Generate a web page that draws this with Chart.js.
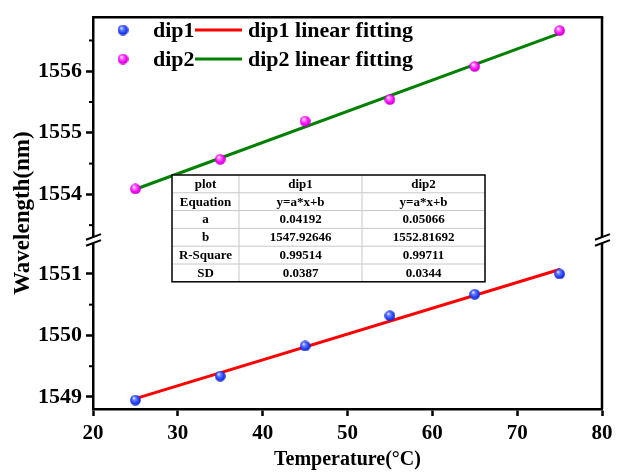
<!DOCTYPE html>
<html>
<head>
<meta charset="utf-8">
<script src="https://cdn.jsdelivr.net/npm/chart.js@4.4.0/dist/chart.umd.min.js"></script>
<style>
  html, body { margin: 0; padding: 0; background: #fff; }
</style>
</head>
<body>
<canvas id="chart" width="637" height="475"></canvas>
<script>
// measured dip wavelengths vs. temperature
const temperature = [25, 35, 45, 55, 65, 75];
const dip1 = [1548.95, 1549.34, 1549.83, 1550.32, 1550.67, 1551.00];
const dip2 = [1554.09, 1554.57, 1555.19, 1555.54, 1556.08, 1556.66];

// linear fit results y = a*x + b
const fitA = [0.04192, 0.05066];
const fitB = [1547.92646, 1552.81692];
const rSquare = ['0.99514', '0.99711'];
const stdDev = ['0.0387', '0.0344'];

// broken y axis: lower and upper segment ranges
const lowRange = [1548.805, 1551.551];
const highRange = [1553.259, 1556.878];
const xRange = [20, 80];

const serif = "'Liberation Serif', 'Times New Roman', serif";

// small shaded ball used as the point marker
function sphere(light, base, dark) {
  const c = document.createElement('canvas');
  c.width = 11; c.height = 11;
  const g = c.getContext('2d');
  const grad = g.createRadialGradient(3.8, 3.3, 0.3, 5.5, 5.5, 5.5);
  grad.addColorStop(0, '#ffffff');
  grad.addColorStop(0.25, light);
  grad.addColorStop(0.7, base);
  grad.addColorStop(1, dark);
  g.fillStyle = grad;
  g.beginPath();
  g.arc(5.5, 5.5, 5.3, 0, Math.PI * 2);
  g.fill();
  return c;
}
const blueBall = sphere('#6f86ff', '#2040ff', '#1020b0');
const pinkBall = sphere('#ff7bff', '#ff00ff', '#b000b0');

function fitLine(i) {
  const x0 = temperature[0], x1 = temperature[temperature.length - 1];
  return [{ x: x0, y: fitA[i] * x0 + fitB[i] }, { x: x1, y: fitA[i] * x1 + fitB[i] }];
}

const points = arr => temperature.map((t, i) => ({ x: t, y: arr[i] }));

// frame, minor ticks, axis breaks, y title, legend and fit table
const decorations = {
  id: 'decorations',
  afterDraw(chart) {
    const { ctx, chartArea: ca, scales } = chart;
    const line = (x0, y0, x1, y1) => { ctx.beginPath(); ctx.moveTo(x0, y0); ctx.lineTo(x1, y1); ctx.stroke(); };
    ctx.save();
    ctx.strokeStyle = '#000';

    // minor ticks on the y segments
    ctx.lineWidth = 2;
    [scales.yLow, scales.yHigh].forEach(s => {
      for (let v = Math.ceil(s.min * 2) / 2; v <= s.max; v += 0.5) {
        if (v % 1 === 0) continue;
        const y = s.getPixelForValue(v);
        if (y < s.top + 4 || y > s.bottom - 4) continue;
        line(ca.left - 4, y, ca.left, y);
      }
    });

    // top and right frame
    ctx.lineWidth = 2.5;
    line(ca.left, ca.top, ca.right + 1.25, ca.top);
    line(ca.right, ca.top, ca.right, ca.bottom);

    // axis breaks
    const yb = scales.yHigh.bottom;
    [ca.left, ca.right].forEach(x => {
      ctx.fillStyle = '#fff';
      ctx.fillRect(x - 2, yb - 3, 4, 6);
      ctx.lineWidth = 2;
      line(x - 7, yb - 3 + 2.8, x + 8, yb - 3 - 2.8);
      line(x - 7, yb + 3 + 2.8, x + 8, yb + 3 - 2.8);
    });

    // y axis title
    ctx.fillStyle = '#000';
    ctx.font = 'bold 23px ' + serif;
    ctx.textAlign = 'center';
    ctx.textBaseline = 'middle';
    ctx.translate(23, (ca.top + ca.bottom) / 2);
    ctx.rotate(-Math.PI / 2);
    ctx.fillText('Wavelength(nm)', 0, 0);
    ctx.setTransform(1, 0, 0, 1, 0, 0);

    // legend
    const rows = [
      { ball: blueBall, name: 'dip1', color: '#ff0000', y: 30 },
      { ball: pinkBall, name: 'dip2', color: '#008000', y: 59 }
    ];
    ctx.font = 'bold 22px ' + serif;
    ctx.textAlign = 'left';
    rows.forEach(r => {
      ctx.drawImage(r.ball, 123 - 5.5, r.y - 5.5);
      ctx.fillStyle = '#000';
      ctx.fillText(r.name, 153, r.y + 1);
      ctx.strokeStyle = r.color;
      ctx.lineWidth = 3;
      line(195, r.y, 242, r.y);
      ctx.fillText(r.name + ' linear fitting', 248, r.y + 1);
    });

    // fit result table
    const cols = [172, 239, 362, 485];
    const top = 175, rowH = 17.8;
    const cells = [
      ['plot', 'dip1', 'dip2'],
      ['Equation', 'y=a*x+b', 'y=a*x+b'],
      ['a', fitA[0].toFixed(5), fitA[1].toFixed(5)],
      ['b', fitB[0].toFixed(5), fitB[1].toFixed(5)],
      ['R-Square', rSquare[0], rSquare[1]],
      ['SD', stdDev[0], stdDev[1]]
    ];
    const bottom = top + rowH * cells.length;
    ctx.fillStyle = '#fff';
    ctx.fillRect(cols[0], top, cols[3] - cols[0], bottom - top);
    ctx.strokeStyle = '#c8c8c8';
    ctx.lineWidth = 1;
    for (let i = 1; i < cells.length; i++) line(cols[0], top + i * rowH, cols[3], top + i * rowH);
    line(cols[1], top, cols[1], bottom);
    line(cols[2], top, cols[2], bottom);
    ctx.strokeStyle = '#000';
    ctx.lineWidth = 1.5;
    ctx.strokeRect(cols[0], top, cols[3] - cols[0], bottom - top);
    ctx.fillStyle = '#000';
    ctx.font = 'bold 13px ' + serif;
    ctx.textAlign = 'center';
    cells.forEach((row, i) => {
      row.forEach((txt, j) => {
        ctx.fillText(txt, (cols[j] + cols[j + 1]) / 2, top + i * rowH + rowH / 2 + 0.5);
      });
    });
    ctx.restore();
  }
};

const tickFont = { family: serif, weight: 'bold', size: 22 };
const plainTick = v => String(v);
const axisGrid = { drawOnChartArea: false, color: '#000', tickLength: 7, tickWidth: 2.5 };
const axisBorder = { display: true, color: '#000', width: 2.5 };

new Chart(document.getElementById('chart'), {
  type: 'scatter',
  data: {
    datasets: [
      { label: 'dip1', data: points(dip1), yAxisID: 'yLow', pointStyle: blueBall, showLine: false },
      { label: 'dip1 linear fitting', data: fitLine(0), yAxisID: 'yLow', showLine: true,
        borderColor: '#ff0000', borderWidth: 3, pointRadius: 0, order: 1 },
      { label: 'dip2', data: points(dip2), yAxisID: 'yHigh', pointStyle: pinkBall, showLine: false },
      { label: 'dip2 linear fitting', data: fitLine(1), yAxisID: 'yHigh', showLine: true,
        borderColor: '#008000', borderWidth: 3, pointRadius: 0, order: 1 }
    ]
  },
  options: {
    responsive: false,
    devicePixelRatio: 1,
    animation: false,
    events: [],
    layout: { padding: { top: 8, right: 35, left: 0, bottom: 0 } },
    plugins: { legend: { display: false }, tooltip: { enabled: false } },
    scales: {
      x: {
        type: 'linear',
        min: xRange[0], max: xRange[1],
        ticks: { stepSize: 10, color: '#000', padding: 5, callback: plainTick,
          font: { family: serif, weight: 'bold', size: 21 } },
        grid: axisGrid,
        border: axisBorder,
        title: { display: true, text: 'Temperature(°C)', color: '#000',
          font: { family: serif, weight: 'bold', size: 20 }, padding: { top: 0, bottom: 3 } },
        afterFit(scale) { scale.height = 66; }
      },
      yLow: {
        type: 'linear', position: 'left', stack: 'wl', stackWeight: 173,
        min: lowRange[0], max: lowRange[1],
        ticks: { stepSize: 1, includeBounds: false, color: '#000', padding: 4, callback: plainTick, font: tickFont },
        grid: axisGrid,
        border: axisBorder,
        afterFit(scale) { scale.width = 93; }
      },
      yHigh: {
        type: 'linear', position: 'left', stack: 'wl', stackWeight: 228,
        min: highRange[0], max: highRange[1],
        ticks: { stepSize: 1, includeBounds: false, color: '#000', padding: 4, callback: plainTick, font: tickFont },
        grid: axisGrid,
        border: axisBorder,
        afterFit(scale) { scale.width = 93; }
      }
    }
  },
  plugins: [decorations]
});
</script>
</body>
</html>
